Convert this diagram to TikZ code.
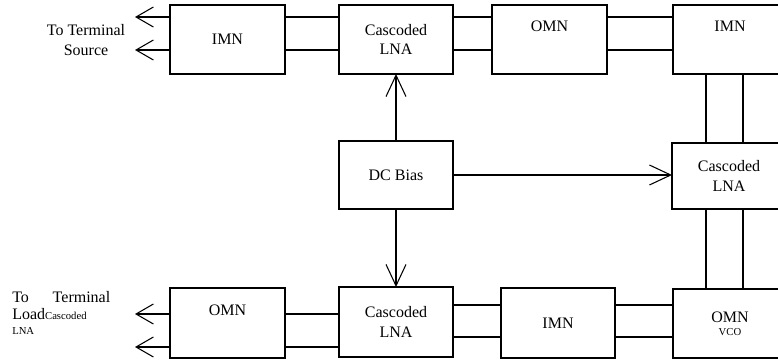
\documentclass[tikz,border=0pt]{standalone}
\usepackage{fontspec}
\setmainfont{Liberation Serif}
\usetikzlibrary{arrows.meta}
\newcommand{\smalltxt}{\fontsize{8}{9}\selectfont}
\begin{document}
\begin{tikzpicture}[x=0.75pt,y=-0.75pt,
  font=\fontsize{12}{14.5}\selectfont,
  blk/.style={draw, line width=0.9pt, minimum width=85.5pt, minimum height=51.75pt, inner sep=0pt, outer sep=0pt, align=center},
  txt/.style={inner sep=0pt, outer sep=0pt, align=center},
  wire/.style={line width=0.8pt},
  barbS/.style={line width=0.8pt, -{Straight Barb[length=13pt, width=15pt, line width=0.8pt]}},
  barbL/.style={line width=0.8pt, -{Straight Barb[length=16pt, width=15pt, line width=0.8pt]}}]
\clip (0,0) rectangle (778,360);
% top row
\node[blk, minimum width=86.25pt] (imnT) at (227.5,39.5) {IMN};
\node[blk] (lnaT) at (396,39.5) {Cascoded\\LNA};
\node[blk, minimum width=86.25pt] (omnT) at (549.5,39.5) {};
\node[txt] (omnTt) at (549.5,26) {OMN};
\node[blk] (imnR) at (730,39.5) {};
\node[txt] (imnRt) at (730,26) {IMN};
% middle
\node[blk, minimum height=51pt] (dc) at (396,175) {DC Bias};
\node[blk, minimum height=49.5pt] (lnaR) at (729,176) {Cascoded\\LNA};
% bottom row
\node[blk, minimum width=86.25pt, minimum height=52.5pt] (omnL) at (227.5,323) {};
\node[txt] (omnLt) at (227.5,310) {OMN};
\node[blk, minimum height=52.5pt] (lnaB) at (396,322) {Cascoded\\LNA};
\node[blk, minimum height=52.5pt] (imnB) at (558,323) {IMN};
\node[blk, minimum height=51.75pt] (omnR) at (730,323.5) {};
\node[txt] (omnRt) at (730,317) {OMN};
\node[txt] (vco) at (730,332) {\smalltxt VCO};
% texts left
\node[txt] (srcT) at (86,40) {To Terminal\\Source};
\node[anchor=base west, inner sep=0pt] (ld1) at (12,302) {\makebox[73.5pt][s]{To\hfill Terminal}};
\node[anchor=base west, inner sep=0pt] (ld2) at (12,319) {Load\smalltxt Cascoded};
\node[anchor=base west, inner sep=0pt] (ld3) at (12,334) {\smalltxt LNA};
% free ends of arrows
\coordinate (sA) at (135,17);
\coordinate (sB) at (135,50);
\coordinate (lA) at (135,314);
\coordinate (lB) at (135,347);
% top wires
\draw[barbS] (imnT.west |- sA) -- (sA);
\draw[barbS] (imnT.west |- sB) -- (sB);
\foreach \a/\b in {imnT/lnaT, lnaT/omnT, omnT/imnR}{
  \draw[wire] (\a.east |- 0,17) -- (\b.west |- 0,17);
  \draw[wire] (\a.east |- 0,50) -- (\b.west |- 0,50);
}
% bottom wires
\draw[barbS] (omnL.west |- lA) -- (lA);
\draw[barbS] (omnL.west |- lB) -- (lB);
\draw[wire] (omnL.east |- 0,314) -- (lnaB.west |- 0,314);
\draw[wire] (omnL.east |- 0,347) -- (lnaB.west |- 0,347);
\foreach \a/\b in {lnaB/imnB, imnB/omnR}{
  \draw[wire] (\a.east |- 0,305) -- (\b.west |- 0,305);
  \draw[wire] (\a.east |- 0,337) -- (\b.west |- 0,337);
}
% vertical wires on the right
\foreach \x in {706,743}{
  \draw[wire] (imnR.south -| \x,0) -- (lnaR.north -| \x,0);
  \draw[wire] (lnaR.south -| \x,0) -- (omnR.north -| \x,0);
}
% DC bias arrows
\draw[barbL] (dc.north) -- (lnaT.south);
\draw[barbL] (dc.south) -- (lnaB.north);
\draw[barbL] (dc.east) -- (dc.east -| lnaR.west);
\end{tikzpicture}
\end{document}
